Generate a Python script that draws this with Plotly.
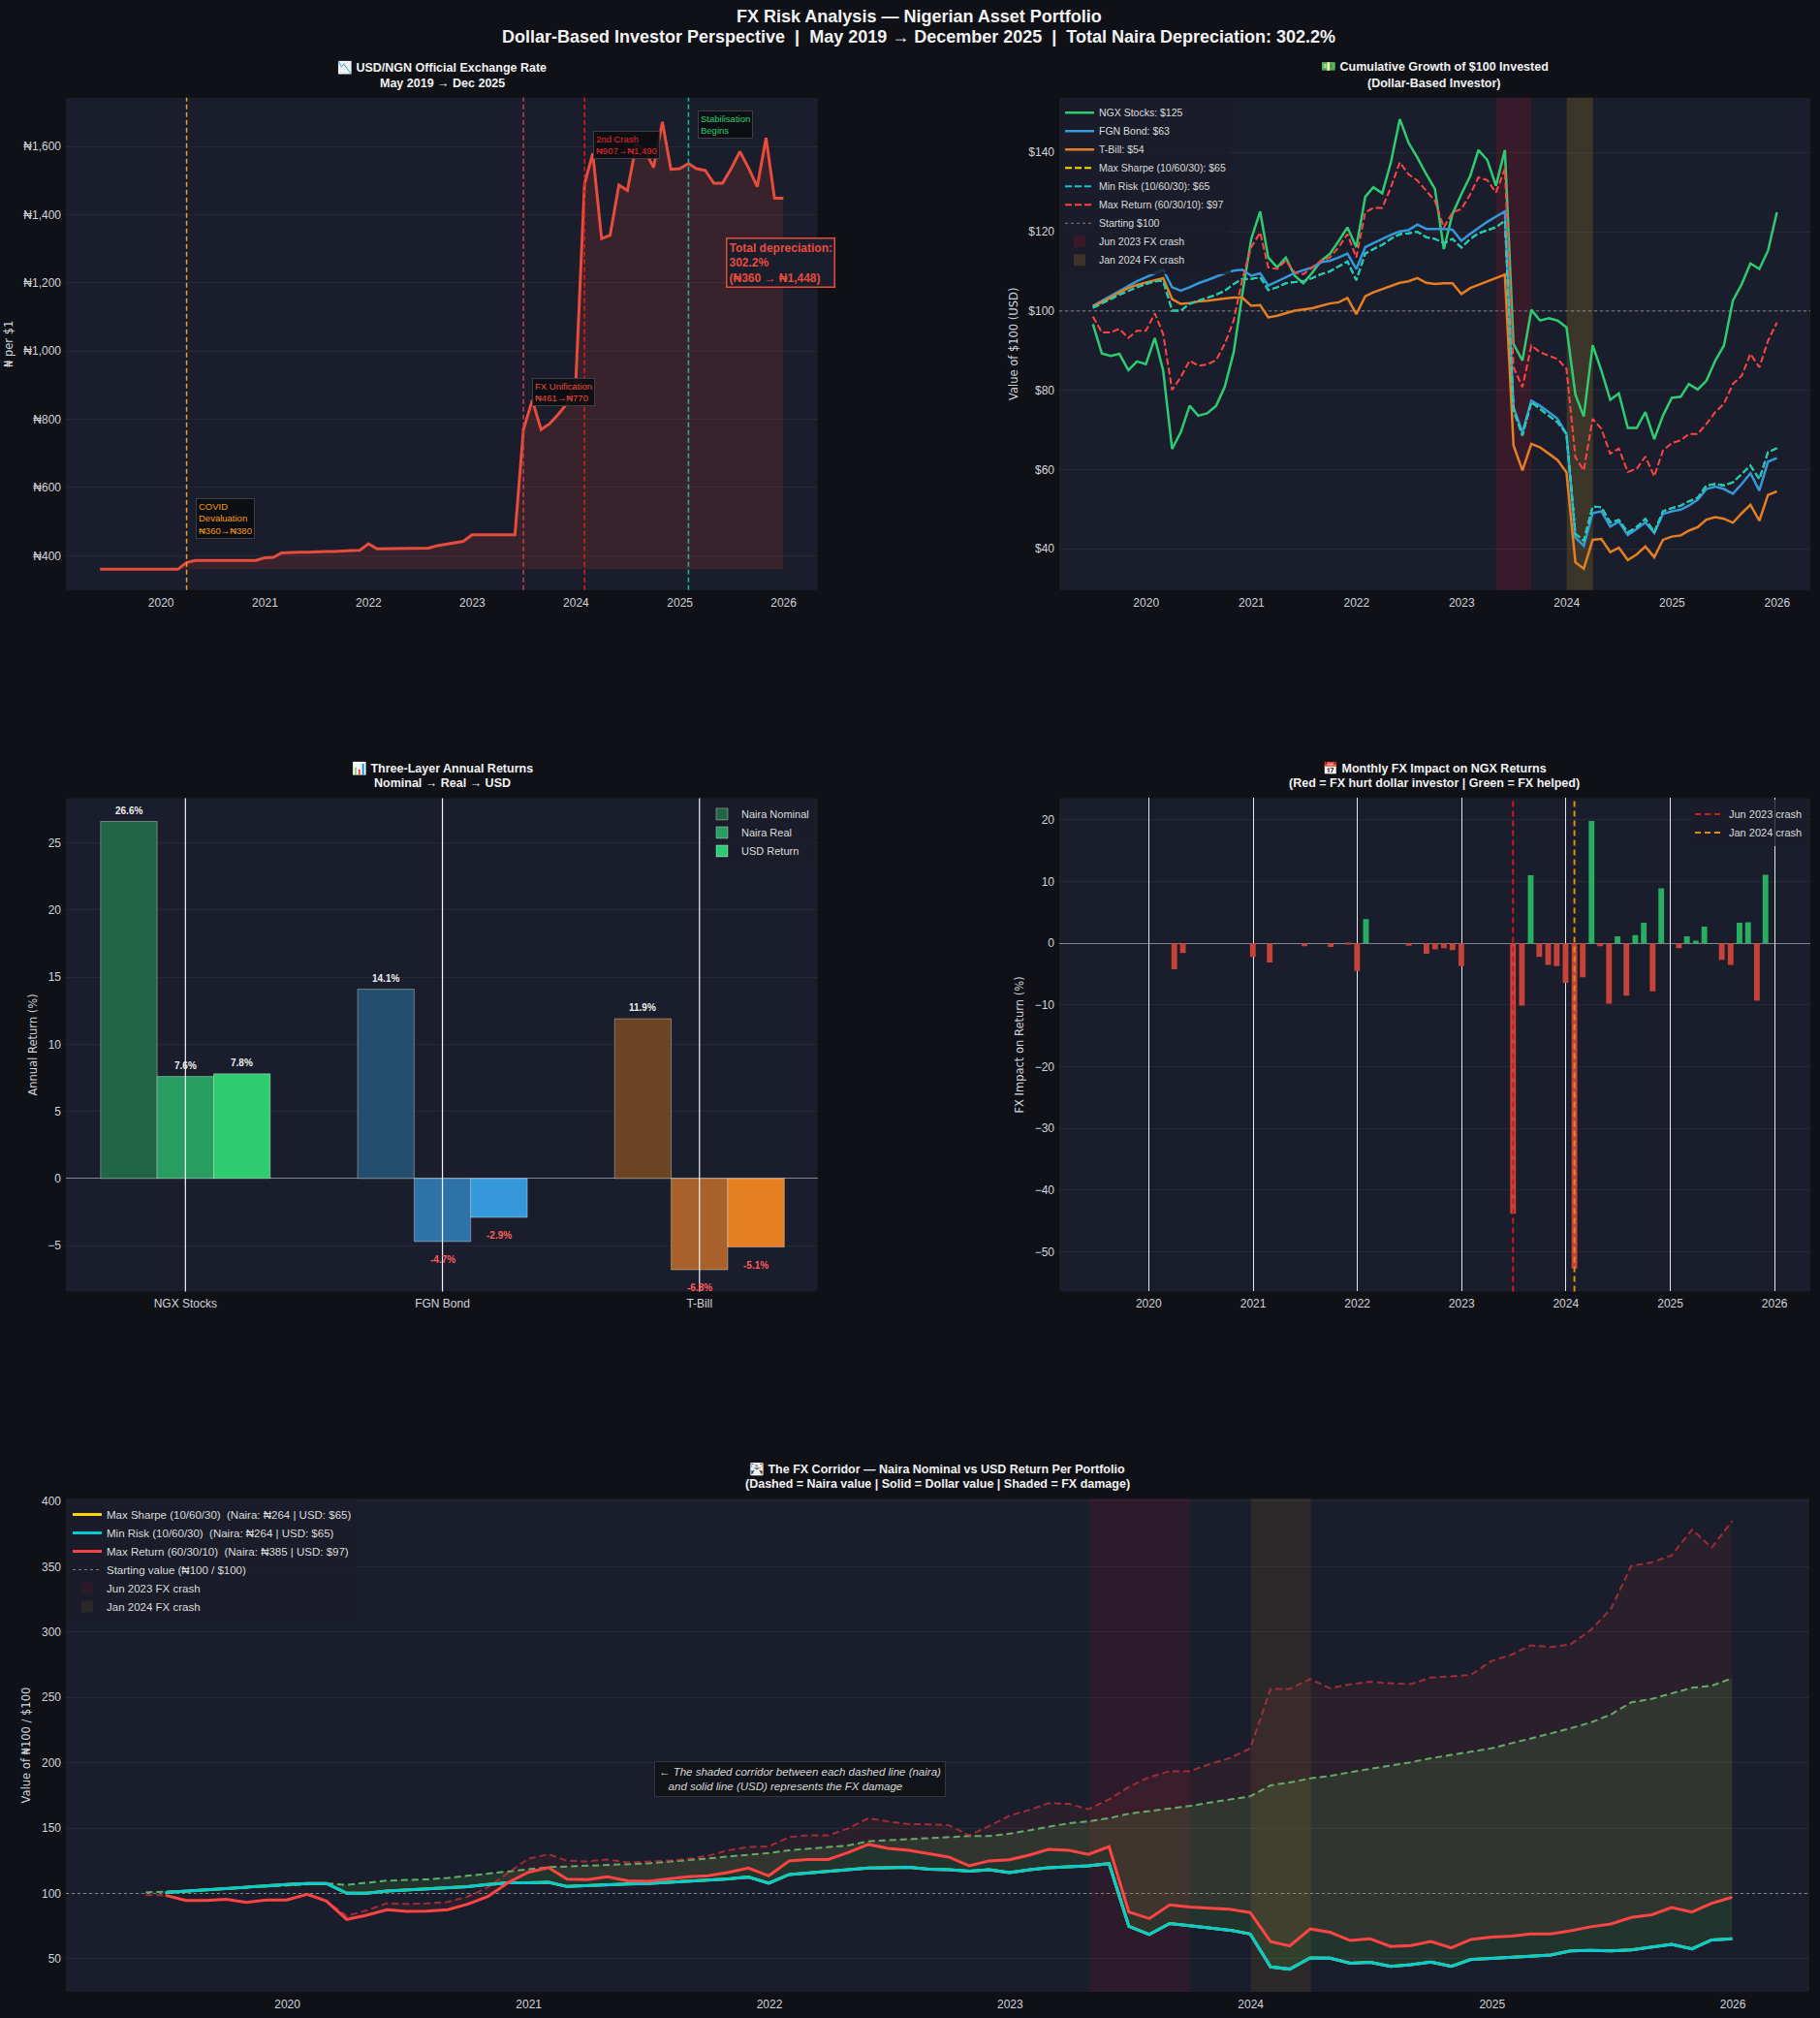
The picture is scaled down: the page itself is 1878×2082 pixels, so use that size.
import pandas as pd
import plotly.graph_objects as go

# ---------------- DATA ----------------
month_start = pd.date_range("2019-06-01", periods=80, freq="MS")
dates_all = month_start - pd.Timedelta(days=1)      # month-ends May 2019 .. Dec 2025
dates_usd = dates_all[1:]                            # Jun 2019 .. Dec 2025

BASE_RATE = 360
BASELINE = 100

usd_ngn = [360, 360, 360, 360, 360, 360, 360, 360, 360, 360,
           380, 386, 386, 386, 386, 386, 386, 386, 386, 394,
           395, 408, 410, 410, 410, 412, 412, 412, 414.5, 415,
           415.5, 435, 420, 420, 420, 420, 420, 422, 422, 429.5,
           434, 437.5, 442, 461, 461, 461, 461, 461, 461, 770,
           856, 770, 787, 815, 846, 907, 1490, 1580, 1330, 1340,
           1487, 1471, 1607, 1588, 1538, 1672, 1533, 1535, 1550, 1535,
           1530, 1492, 1492, 1535, 1585, 1536, 1482, 1625, 1448, 1448]

ngx_usd = [96.7, 89.3, 88.7, 89.2, 85.1, 87.3, 86.6, 93.2, 85.0, 65.2,
           69.4, 76.1, 73.6, 74.2, 76.1, 80.9, 89.6, 104.3, 118.2, 125.1,
           113.5, 111.0, 113.5, 108.9, 107.0, 109.7, 112.7, 114.4, 117.7, 121.1,
           116.1, 128.8, 131.2, 129.7, 137.5, 148.4, 142.5, 138.7, 134.5, 130.8,
           115.6, 124.5, 129.5, 134.1, 140.6, 138.1, 131.6, 140.6, 91.7, 87.5,
           100.3, 97.6, 98.2, 97.6, 95.9, 78.9, 73.4, 91.4, 85.0, 77.6,
           79.2, 70.5, 70.5, 74.5, 67.7, 73.6, 78.1, 78.4, 81.6, 80.2,
           82.4, 87.5, 91.3, 102.6, 106.8, 112.0, 110.6, 115.2, 124.9]

fgn_usd = [101.3, 102.6, 103.9, 105.1, 106.4, 107.5, 108.5, 109.5, 110.4, 106.0,
           105.1, 106.0, 107.0, 107.8, 108.7, 109.5, 110.2, 110.4, 108.9, 109.5,
           106.4, 107.4, 108.5, 109.6, 110.2, 111.0, 112.3, 112.7, 113.5, 114.5,
           110.6, 116.1, 117.1, 118.2, 119.2, 120.1, 120.4, 121.8, 120.7, 120.7,
           120.7, 120.5, 117.7, 119.5, 121.0, 122.5, 123.8, 125.1, 75.7, 69.4,
           77.4, 76.1, 74.5, 72.8, 69.0, 42.9, 40.8, 49.0, 49.5, 45.6,
           46.9, 43.5, 45.0, 46.7, 44.0, 48.8, 49.5, 49.9, 50.9, 52.4,
           55.1, 55.7, 55.1, 53.9, 56.4, 59.1, 54.7, 62.0, 62.9]

tbill_usd = [101.1, 102.2, 103.4, 104.7, 105.8, 106.6, 107.2, 107.8, 108.3, 103.0,
             101.8, 102.0, 102.4, 102.6, 102.9, 103.1, 103.4, 103.4, 101.3, 101.5,
             98.4, 98.8, 99.4, 100.1, 100.4, 100.7, 101.3, 101.9, 102.2, 103.3,
             99.2, 103.7, 104.7, 105.5, 106.4, 107.1, 107.5, 108.3, 107.1, 106.8,
             107.0, 107.0, 104.3, 105.8, 106.6, 107.5, 108.3, 109.2, 66.1, 59.8,
             66.5, 65.6, 64.0, 62.4, 59.3, 36.6, 35.0, 42.3, 42.5, 39.2,
             40.3, 37.2, 38.6, 40.6, 37.9, 42.3, 43.1, 43.4, 44.6, 45.5,
             47.4, 48.0, 47.6, 46.6, 49.0, 51.1, 47.1, 53.6, 54.5]

min_risk_usd = [100.8, 101.8, 103.0, 104.1, 105.1, 106.0, 106.8, 107.5, 107.6, 100.1,
                100.1, 101.8, 102.6, 103.3, 104.1, 105.1, 106.8, 108.1, 108.1, 108.5,
                105.3, 106.0, 107.0, 107.3, 107.5, 108.3, 109.3, 110.0, 111.2, 112.5,
                107.8, 114.5, 115.6, 116.7, 118.2, 119.4, 119.6, 120.0, 118.6, 118.2,
                117.1, 118.2, 116.0, 118.2, 119.6, 120.4, 121.1, 122.8, 74.9, 68.6,
                77.0, 75.3, 73.6, 71.9, 69.0, 43.8, 42.1, 50.7, 50.5, 46.7,
                47.3, 44.2, 45.5, 47.6, 44.2, 49.5, 50.3, 50.9, 52.0, 52.9,
                56.0, 56.4, 56.0, 56.8, 58.9, 61.0, 57.6, 64.4, 65.4]
max_sharpe_usd = min_risk_usd   # same 10/60/30 allocation

max_return_usd = [98.6, 94.6, 94.6, 95.5, 93.2, 95.0, 95.0, 99.4, 94.2, 80.1,
                  83.3, 87.5, 86.2, 86.5, 87.6, 91.7, 97.6, 108.1, 116.1, 119.8,
                  111.0, 110.6, 112.7, 109.7, 109.3, 111.0, 112.7, 113.5, 116.1, 119.4,
                  113.5, 124.9, 126.0, 126.0, 131.2, 137.5, 134.5, 132.9, 130.3, 127.8,
                  121.1, 124.9, 125.7, 129.5, 133.7, 133.0, 129.9, 135.8, 85.8, 80.8,
                  91.3, 89.6, 88.7, 87.9, 85.4, 63.1, 59.8, 72.8, 70.3, 64.0,
                  65.3, 59.4, 60.2, 63.3, 58.3, 64.8, 66.7, 67.4, 69.0, 69.0,
                  71.5, 74.5, 76.6, 81.6, 83.7, 89.2, 85.8, 92.5, 97.1]

min_risk_naira = [100.8, 101.3, 102.1, 102.9, 103.7, 104.5, 105.0, 105.8, 106.9, 107.7,
                  106.6, 107.9, 109.8, 110.3, 110.8, 111.9, 113.5, 115.3, 116.7, 118.5,
                  120.1, 120.6, 121.1, 121.9, 122.5, 123.0, 124.3, 125.4, 126.7, 128.3,
                  129.6, 130.9, 133.0, 134.1, 135.4, 136.7, 139.9, 140.7, 141.5, 142.8,
                  143.4, 143.9, 143.9, 145.7, 148.4, 151.0, 153.7, 155.2, 157.6, 161.0,
                  162.9, 165.0, 166.9, 169.5, 171.6, 174.3, 182.7, 184.9, 188.0, 189.9,
                  192.8, 195.2, 197.8, 200.4, 203.4, 206.0, 208.6, 211.0, 215.0, 218.4,
                  222.4, 226.4, 230.8, 236.9, 246.2, 248.8, 252.8, 257.3, 258.9, 264.7]

max_return_naira = [98.7, 98.6, 94.6, 94.6, 95.5, 93.2, 95.0, 95.0, 99.4, 94.2,
                    82.8, 87.0, 92.5, 92.0, 92.3, 93.5, 97.5, 104.7, 115.5, 126.5,
                    130.0, 125.0, 124.5, 126.0, 123.8, 124.5, 125.0, 126.5, 128.8, 133.0,
                    135.5, 136.0, 143.1, 144.4, 144.4, 149.7, 157.6, 155.0, 153.1, 152.9,
                    152.3, 144.4, 151.5, 159.5, 164.0, 169.0, 168.5, 164.5, 172.0, 181.5,
                    189.0, 193.5, 193.5, 199.0, 203.5, 211.0, 256.5, 256.5, 264.0, 257.0,
                    260.0, 262.0, 260.7, 260.2, 265.2, 266.0, 267.3, 277.9, 282.7, 289.8,
                    288.5, 290.6, 301.7, 317.6, 350.6, 353.2, 358.5, 378.3, 364.6, 385.0]

fx_impact = [0, 0, 0, 0, 0, 0, 0, 0, 0, -4.2,
             -1.6, 0, 0, 0, 0, 0, 0, 0, -2.2, 0,
             -3.1, 0, 0, 0, -0.5, 0, 0, -0.6, 0, -0.1,
             -4.5, 3.9, 0, 0, 0, 0, -0.4, 0, -1.7, -1.0,
             -0.8, -1.1, -3.7, 0, 0, 0, 0, 0, -43.8, -10.1,
             11.0, -2.2, -3.5, -3.7, -6.4, -52.7, -5.5, 19.8, -0.5, -9.8,
             1.1, -8.5, 1.3, 3.3, -7.8, 8.9, 0, -0.8, 1.1, 0.4,
             2.7, 0, -2.7, -3.5, 3.3, 3.4, -9.3, 11.1, 0]

assets = ["NGX Stocks", "FGN Bond", "T-Bill"]
naira_nominal = [26.6, 14.1, 11.9]
naira_real = [7.6, -4.7, -6.8]
usd_return = [7.8, -2.9, -5.1]

assert len(usd_ngn) == 80 and len(min_risk_naira) == 80 and len(max_return_naira) == 80
for s in (ngx_usd, fgn_usd, tbill_usd, min_risk_usd, max_return_usd, fx_impact):
    assert len(s) == 79

# ---------------- STYLE ----------------
W, H = 1878, 2082
FONT = "Liberation Sans, Arial, sans-serif"
AXFONT = "DejaVu Sans, sans-serif"
BG = "#0f1117"
PLOT_BG = "#1a1d2b"
GRID = "rgba(255,255,255,0.05)"
TICK = "#d2d4da"
TITLE = "#f2f2f2"


def fx(p):
    return p / W


def fy(p):
    return 1 - p / H


fig = go.Figure()

# ---- Panel 1: exchange rate ----
fig.add_trace(go.Scatter(x=dates_all, y=[BASE_RATE] * len(dates_all), mode="lines",
                         line=dict(width=0, color="rgba(0,0,0,0)"), showlegend=False,
                         hoverinfo="skip", xaxis="x", yaxis="y"))
fig.add_trace(go.Scatter(x=dates_all, y=usd_ngn, mode="lines", line=dict(color="#e74c3c", width=3),
                         fill="tonexty", fillcolor="rgba(231,76,60,0.15)", showlegend=False,
                         xaxis="x", yaxis="y"))

# ---- Panel 2: cumulative growth ----
p2 = [
    ("NGX Stocks: $125", ngx_usd, "#2ecc71", "solid", 2.5),
    ("FGN Bond: $63", fgn_usd, "#3498db", "solid", 2.5),
    ("T-Bill: $54", tbill_usd, "#e67e22", "solid", 2.5),
    ("Max Sharpe (10/60/30): $65", max_sharpe_usd, "#ffd700", "7px,3px", 2),
    ("Min Risk (10/60/30): $65", min_risk_usd, "#00ced1", "7px,3px", 2),
    ("Max Return (60/30/10): $97", max_return_usd, "#ff4444", "7px,3px", 2),
]
for name, vals, col, dash, wid in p2:
    fig.add_trace(go.Scatter(x=dates_usd, y=vals, mode="lines", name=name,
                             line=dict(color=col, width=wid, dash=dash),
                             xaxis="x2", yaxis="y2", legend="legend"))

# ---- Panel 3: three-layer returns ----
layer_defs = [
    ("Naira Nominal", naira_nominal, ["#216446", "#234e6e", "#6b4424"], -0.33),
    ("Naira Real", naira_real, ["#279e60", "#2e73a8", "#a8612a"], -0.11),
    ("USD Return", usd_return, ["#2ecc71", "#3498db", "#e67e22"], 0.11),
]
annotations = []
for name, vals, cols, off in layer_defs:
    fig.add_trace(go.Bar(x=assets, y=vals, width=0.22, offset=off, name=name,
                         marker=dict(color=cols, line=dict(color="rgba(255,255,255,0.35)", width=1)),
                         xaxis="x3", yaxis="y3", legend="legend2"))
    for i, v in enumerate(vals):
        annotations.append(dict(
            x=i + off + 0.11, y=v + 0.8 if v >= 0 else v - 1.35, xref="x3", yref="y3",
            text=f"<b>{v:.1f}%</b>", showarrow=False,
            font=dict(size=10, color="#eeeeee" if v >= 0 else "#ff5c5c", family=FONT)))

# ---- Panel 4: monthly FX impact ----
bar_cols = ["#27ae60" if v > 0 else "#c7433a" for v in fx_impact]
fig.add_trace(go.Bar(x=dates_usd, y=fx_impact, width=20 * 24 * 3600 * 1000,
                     marker=dict(color=bar_cols, line=dict(width=0)), showlegend=False,
                     xaxis="x4", yaxis="y4"))

# ---- Panel 5: FX corridor ----
fig.add_trace(go.Scatter(x=dates_usd, y=min_risk_usd, mode="lines", line=dict(width=0),
                         showlegend=False, hoverinfo="skip", xaxis="x5", yaxis="y5"))
fig.add_trace(go.Scatter(x=dates_all, y=min_risk_naira, mode="lines", fill="tonexty",
                         fillcolor="rgba(100,220,70,0.12)",
                         line=dict(color="rgba(95,185,110,0.95)", width=2, dash="7px,4px"),
                         showlegend=False, xaxis="x5", yaxis="y5"))
fig.add_trace(go.Scatter(x=dates_usd, y=max_return_usd, mode="lines", line=dict(width=0),
                         showlegend=False, hoverinfo="skip", xaxis="x5", yaxis="y5"))
fig.add_trace(go.Scatter(x=dates_all, y=max_return_naira, mode="lines", fill="tonexty",
                         fillcolor="rgba(231,76,60,0.08)",
                         line=dict(color="rgba(200,50,60,0.75)", width=2, dash="7px,4px"),
                         showlegend=False, xaxis="x5", yaxis="y5"))
p5 = [
    ("Max Sharpe (10/60/30)\u00a0\u00a0(Naira: ₦264 | USD: $65)", max_sharpe_usd, "#ffd700"),
    ("Min Risk (10/60/30)\u00a0\u00a0(Naira: ₦264 | USD: $65)", min_risk_usd, "#00ced1"),
    ("Max Return (60/30/10)\u00a0\u00a0(Naira: ₦385 | USD: $97)", max_return_usd, "#ff4444"),
]
for name, vals, col in p5:
    fig.add_trace(go.Scatter(x=dates_usd, y=vals, mode="lines", name=name,
                             line=dict(color=col, width=3), xaxis="x5", yaxis="y5",
                             legend="legend4"))

# ---------------- SHAPES ----------------
shapes = []
for xd, col in [("2020-03-31", "#f39c12"), ("2023-06-30", "#c0404c"),
                ("2024-01-31", "#e31a1c"), ("2025-01-31", "#1abc9c")]:
    shapes.append(dict(type="line", xref="x", yref="y domain", x0=xd, x1=xd, y0=0, y1=1,
                       line=dict(color=col, width=1.5, dash="5px,3px"), layer="above"))

shapes += [
    dict(type="line", xref="x2 domain", yref="y2", x0=0, x1=1, y0=BASELINE, y1=BASELINE,
         line=dict(color="rgba(200,200,200,0.6)", width=1, dash="dot"),
         showlegend=True, name="Starting $100", legend="legend", layer="below"),
    dict(type="rect", xref="x2", yref="y2 domain", x0="2023-05-01", x1="2023-09-01", y0=0, y1=1,
         fillcolor="rgba(180,20,40,0.2)", line=dict(width=0), layer="below",
         showlegend=True, name="Jun 2023 FX crash", legend="legend"),
    dict(type="rect", xref="x2", yref="y2 domain", x0="2024-01-01", x1="2024-04-01", y0=0, y1=1,
         fillcolor="rgba(200,150,40,0.2)", line=dict(width=0), layer="below",
         showlegend=True, name="Jan 2024 FX crash", legend="legend"),
]
for a in assets:
    shapes.append(dict(type="line", xref="x3", yref="y3 domain", x0=a, x1=a, y0=0, y1=1,
                       line=dict(color="rgba(255,255,255,0.95)", width=1.2), layer="above"))
shapes += [
    dict(type="line", xref="x4", yref="y4 domain", x0="2023-06-30", x1="2023-06-30", y0=0, y1=1,
         line=dict(color="#d0191e", width=2, dash="6px,4px"), layer="above",
         showlegend=True, name="Jun 2023 crash", legend="legend3"),
    dict(type="line", xref="x4", yref="y4 domain", x0="2024-01-31", x1="2024-01-31", y0=0, y1=1,
         line=dict(color="#e08e0b", width=2, dash="6px,4px"), layer="above",
         showlegend=True, name="Jan 2024 crash", legend="legend3"),
    dict(type="line", xref="x5 domain", yref="y5", x0=0, x1=1, y0=BASELINE, y1=BASELINE,
         line=dict(color="rgba(200,200,200,0.6)", width=1, dash="dot"), layer="below",
         showlegend=True, name="Starting value (₦100 / $100)", legend="legend4"),
    dict(type="rect", xref="x5", yref="y5 domain", x0="2023-05-01", x1="2023-10-01", y0=0, y1=1,
         fillcolor="rgba(180,20,40,0.12)", line=dict(width=0), layer="below",
         showlegend=True, name="Jun 2023 FX crash", legend="legend4"),
    dict(type="rect", xref="x5", yref="y5 domain", x0="2024-01-01", x1="2024-04-01", y0=0, y1=1,
         fillcolor="rgba(200,150,40,0.1)", line=dict(width=0), layer="below",
         showlegend=True, name="Jan 2024 FX crash", legend="legend4"),
]

# ---------------- ANNOTATIONS ----------------
def title_ann(xp, yp, text, size):
    return dict(x=fx(xp), y=fy(yp - 3), xref="paper", yref="paper", text=f"<b>{text}</b>",
                showarrow=False, xanchor="center", yanchor="middle",
                font=dict(size=size, color=TITLE, family=FONT))


annotations += [
    title_ann(948, 16.5, "FX Risk Analysis — Nigerian Asset Portfolio", 18),
    title_ann(948, 37, "Dollar-Based Investor Perspective\u00a0\u00a0|\u00a0\u00a0May 2019 → December 2025"
              "\u00a0\u00a0|\u00a0\u00a0Total Naira Depreciation: 302.2%", 18),
    title_ann(456, 68.3, "📉 USD/NGN Official Exchange Rate", 12.5),
    title_ann(456, 85, "May 2019 → Dec 2025", 12.5),
    title_ann(1480, 68.3, "💵 Cumulative Growth of $100 Invested", 12.5),
    title_ann(1480, 85, "(Dollar-Based Investor)", 12.5),
    title_ann(456, 793, "📊 Three-Layer Annual Returns", 12.5),
    title_ann(456, 809, "Nominal → Real → USD", 12.5),
    title_ann(1480, 793, "📅 Monthly FX Impact on NGX Returns", 12.5),
    title_ann(1480, 809, "(Red = FX hurt dollar investor | Green = FX helped)", 12.5),
    title_ann(967, 1517, "🛣 The FX Corridor — Naira Nominal vs USD Return Per Portfolio", 12.5),
    title_ann(967, 1533, "(Dashed = Naira value | Solid = Dollar value | Shaded = FX damage)", 12.5),
]


def box_ann(xd, yv, text, col):
    return dict(x=xd, y=yv, xref="x", yref="y", text=text, showarrow=False, xanchor="left",
                yanchor="bottom", align="left", font=dict(size=9.5, color=col, family=FONT),
                bgcolor="rgba(12,13,18,0.9)", bordercolor="#3c3f48", borderwidth=1, borderpad=2)


annotations += [
    box_ann("2020-05-01", 449, "COVID<br>Devaluation<br>₦360→₦380", "#f39c12"),
    box_ann("2023-07-31", 840, "FX Unification<br>₦461→₦770", "#e74c3c"),
    box_ann("2024-03-01", 1563, "2nd Crash<br>₦907→₦1,490", "#e8262b"),
    box_ann("2025-03-03", 1624, "Stabilisation<br>Begins", "#2ecc71"),
    dict(x="2025-06-13", y=1184, xref="x", yref="y", showarrow=False, xanchor="left",
         yanchor="bottom", align="left",
         text="<b>Total depreciation:<br>302.2%<br>(₦360 → ₦1,448)</b>",
         font=dict(size=12, color="#e74c3c", family=FONT), bgcolor="#1a1d2b",
         bordercolor="#e74c3c", borderwidth=1.5, borderpad=2),
    dict(x="2022-02-17", y=187.5, xref="x5", yref="y5", showarrow=False, xanchor="center",
         yanchor="middle", align="left",
         text="<i>← The shaded corridor between each dashed line (naira)<br>"
              "\u00a0\u00a0 and solid line (USD) represents the FX damage</i>",
         font=dict(size=11.5, color="#d8d8d8", family=FONT), bgcolor="#111318",
         bordercolor="#33363f", borderwidth=1, borderpad=4),
]

# ---------------- AXES ----------------
XL = [fx(68), fx(843.5)]
XR = [fx(1093), fx(1868)]
XB = [fx(68), fx(1867)]
YT = [fy(606), fy(97)]
YM = [fy(1331), fy(821)]
YB = [fy(2055), fy(1545)]


def xdate(domain, anchor, rng, grid=False):
    return dict(domain=domain, anchor=anchor, type="date", range=rng, tickformat="%Y",
                dtick="M12", tick0="2020-01-01", showgrid=grid,
                gridcolor="rgba(255,255,255,0.9)", gridwidth=1.2, zeroline=False,
                showline=False, ticks="", ticklabelstandoff=4,
                tickfont=dict(size=12, color=TICK, family=FONT))


def ylin(domain, anchor, rng, dtick, tick0, title, prefix="", fmt="", zero=False):
    return dict(domain=domain, anchor=anchor, range=rng, dtick=dtick, tick0=tick0,
                tickprefix=prefix, tickformat=fmt, showgrid=True, gridcolor=GRID,
                zeroline=zero, zerolinecolor="rgba(200,205,215,0.6)", zerolinewidth=1,
                showline=False, ticks="", ticklabelstandoff=4,
                tickfont=dict(size=12, color=TICK, family=FONT),
                title=dict(text=title, standoff=8, font=dict(size=11.5, color=TICK, family=AXFONT)))


def leg(x, y, xanchor, size):
    return dict(x=fx(x), y=fy(y), xanchor=xanchor, yanchor="top", traceorder="normal",
                bgcolor="rgba(26,29,43,0.8)", borderwidth=0,
                font=dict(size=size, color="#dddddd", family=FONT))


layout = dict(
    width=W, height=H, margin=dict(l=0, r=0, t=0, b=0),
    paper_bgcolor=BG, plot_bgcolor=PLOT_BG, barmode="overlay",
    font=dict(family=FONT, color=TICK, size=12), hovermode=False,
    xaxis=xdate(XL, "y", ["2019-01-31", "2026-04-30"]),
    yaxis=ylin(YT, "x", [299, 1743], 200, 400, "₦ per $1", prefix="₦", fmt=",d"),
    xaxis2=xdate(XR, "y2", ["2019-03-05", "2026-04-26"]),
    yaxis2=ylin(YT, "x2", [29.6, 153.8], 20, 40, "Value of $100 (USD)", prefix="$"),
    xaxis3=dict(domain=XL, anchor="y3", type="category", categoryorder="array",
                categoryarray=assets, range=[-0.465, 2.459], showgrid=False, zeroline=False,
                ticks="", ticklabelstandoff=4, tickfont=dict(size=12, color=TICK, family=FONT)),
    yaxis3=ylin(YM, "x3", [-8.42, 28.34], 5, 0, "Annual Return (%)", zero=True),
    xaxis4=xdate(XR, "y4", ["2019-02-22", "2026-05-06"], grid=True),
    yaxis4=ylin(YM, "x4", [-56.4, 23.5], 10, 0, "FX Impact on Return (%)", zero=True),
    xaxis5=xdate(XB, "y5", ["2019-01-30", "2026-04-27"]),
    yaxis5=ylin(YB, "x5", [24.7, 402.1], 50, 50, "Value of ₦100 / $100"),
    legend=leg(1094, 98, "left", 10.5),
    legend2=leg(840, 823, "right", 11),
    legend3=leg(1865, 823, "right", 11),
    legend4=leg(70, 1547, "left", 11.5),
    shapes=shapes,
    annotations=annotations,
)
fig.update_layout(**layout)
fig.write_html("out.html")
